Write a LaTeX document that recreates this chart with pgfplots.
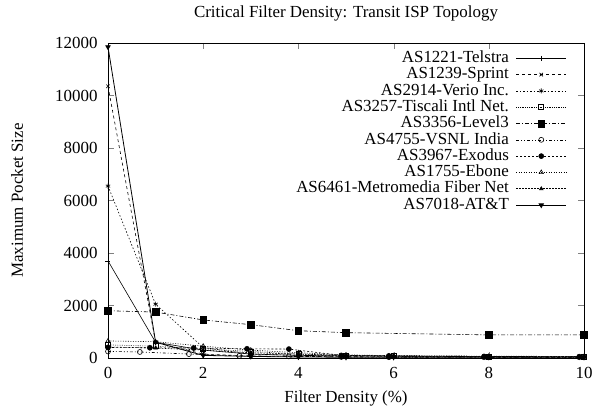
\documentclass[border=0pt]{standalone}
\usepackage{fontspec}
\setmainfont{Liberation Serif}
\usepackage{pgfplots}
\pgfplotsset{compat=1.18}
\begin{document}
\begin{tikzpicture}
\begin{axis}[
  name=ax,
  scale only axis, width=476bp, height=315bp,
  xmin=0, xmax=10, ymin=0, ymax=12000,
  xtick={0,2,4,6,8,10}, ytick={0,2000,4000,6000,8000,10000,12000},
  scaled y ticks=false,
  /pgf/number format/assume math mode=true,
  /pgf/number format/1000 sep={},
  tick label style={font=\rmfamily\fontsize{17}{18}\selectfont},
  xticklabel style={yshift=-6bp},
  yticklabel style={xshift=-7bp},
  label style={font=\rmfamily\fontsize{17}{18}\selectfont},
  title style={font=\rmfamily\fontsize{17}{18}\selectfont, at={(axis description cs:0.5,1.076)}, anchor=center},
  title={Critical Filter Density: Transit ISP Topology},
  xlabel={Filter Density (\%)}, ylabel={Maximum Pocket Size},
  xlabel style={at={(axis description cs:0.5,-0.127)}, anchor=center},
  ylabel style={at={(axis description cs:-0.191,0.5)}, anchor=center, rotate=0},
  tick align=inside, major tick length=6bp,
  legend style={draw=none, fill=none, inner sep=0pt, at={(axis description cs:0.964,0.975)}, anchor=north east,
    font=\rmfamily\fontsize{17}{18}\selectfont, row sep=1.8bp, column sep=7bp,
    nodes={inner sep=0pt, text height=11.5bp, text depth=3bp},
    legend image code/.code={\draw[mark repeat=2,mark phase=2,#1] plot coordinates {(0bp,0bp)(25bp,0bp)(50bp,0bp)};}},
  legend cell align=right, legend plot pos=right,
  every axis plot/.append style={black, line width=0.6pt},
  mark size=2.5bp,
]
\addplot[solid, mark=+, mark options={solid}] coordinates {(0,3700)(1,600)(2,300)(3,150)(4,100)(5,80)(6,70)(8,50)(10,40)};
\addlegendentry{AS1221-Telstra}
\addplot[dashed, mark=x, mark options={solid}] coordinates {(0,10350)(1,600)(2,150)(3,80)(4,60)(5,50)(6,40)(8,30)(10,30)};
\addlegendentry{AS1239-Sprint}
\addplot[dash pattern=on 1.5pt off 2pt, mark=asterisk, mark options={solid}] coordinates {(0,6550)(1,2050)(2,400)(3,150)(4,100)(5,80)(6,60)(8,50)(10,40)};
\addlegendentry{AS2914-Verio Inc.}
\addplot[dash pattern=on 0.6pt off 1.2pt, mark=square, mark options={solid}] coordinates {(0,500)(1,450)(2,350)(3,250)(4,150)(5,100)(6,80)(8,60)(10,50)};
\addlegendentry{AS3257-Tiscali Intl Net.}
\addplot[dash pattern=on 4pt off 2pt on 1pt off 2pt, mark=square*, mark size=3.3bp, mark options={solid}] coordinates {(0,1800)(1,1750)(2,1450)(3,1270)(4,1040)(5,965)(8,880)(10,880)};
\addlegendentry{AS3356-Level3}
\addplot[dash pattern=on 3pt off 2pt on 1pt off 2pt on 1pt off 2pt, mark=o, mark options={solid}] coordinates {(0,250)(0.67,230)(1.7,150)(2.76,80)(3.8,60)(4.9,40)(5.9,30)(7.9,30)(9.9,30)};
\addlegendentry{AS4755-VSNL India}
\addplot[dash pattern=on 2pt off 2pt, mark=*, mark options={solid}] coordinates {(0,400)(0.88,390)(1.8,380)(2.92,350)(3.8,340)(4.9,100)(5.9,80)(7.9,60)(9.9,50)};
\addlegendentry{AS3967-Exodus}
\addplot[dash pattern=on 1pt off 1.5pt, mark=triangle, mark options={solid}] coordinates {(0,650)(1,620)(2,450)(3,300)(4,200)(5,120)(6,90)(8,70)(10,60)};
\addlegendentry{AS1755-Ebone}
\addplot[dash pattern=on 1.5pt off 1.5pt, mark=triangle*, mark size=2bp, mark options={solid}] coordinates {(0,420)(1,380)(2,300)(3,200)(4,150)(5,100)(6,80)(8,60)(10,50)};
\addlegendentry{AS6461-Metromedia Fiber Net}
\addplot[solid, line width=0.8pt, mark=triangle*, mark options={solid, rotate=180}] coordinates {(0,11850)(1,600)(2,100)(3,60)(4,40)(5,30)(6,30)(8,30)(10,30)};
\addlegendentry{AS7018-AT\&T}
\end{axis}
\path ([xshift=-108bp,yshift=-49bp]ax.south west) rectangle ([xshift=13bp,yshift=43bp]ax.north east);
\end{tikzpicture}
\end{document}
